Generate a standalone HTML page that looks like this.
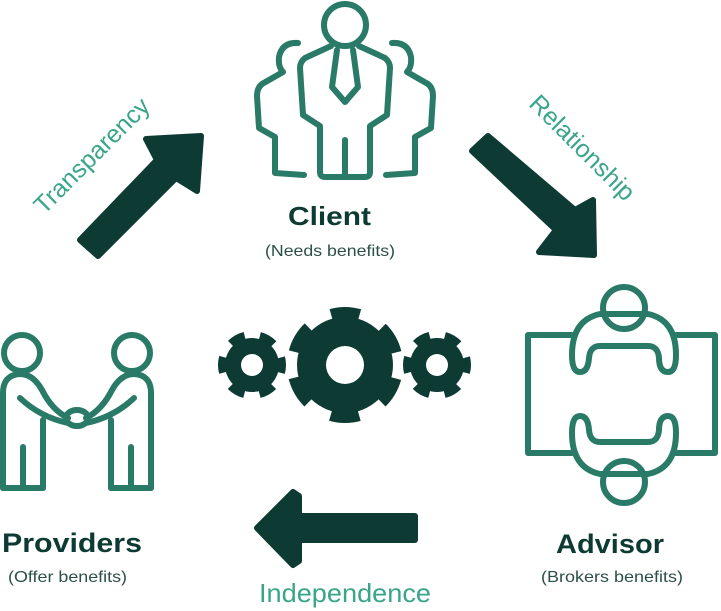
<!DOCTYPE html>
<html><head><meta charset="utf-8"><style>
html,body{margin:0;padding:0;background:#fff;}
svg{display:block;}
</style></head><body>
<svg width="721" height="611" viewBox="0 0 721 611" xmlns="http://www.w3.org/2000/svg">
<g fill="none" stroke="#2a7a68" stroke-width="6" stroke-linecap="round" stroke-linejoin="round">
  <circle cx="345" cy="25" r="21"/>
  <path d="M331,46 L305,58 Q300,62 300,68 L303,115 L320,126 L320,172 Q320,177 325,177 L365,177 Q370,177 370,172 L370,126 L387,115 L390,68 Q390,62 385,58 L359,46"/>
  <path d="M337,50 L332,87 L345,102 L358,87 L353,50"/>
  <path d="M345,140 L345,175"/>
  <path d="M298,43 Q282,42 279,57 Q278,67 283,72 L262,84 Q257,88 257,96 L259,128 L275,137 L275,173 L304,175"/>
  <path d="M392,43 Q408,42 411,57 Q412,67 407,72 L428,84 Q433,88 433,96 L431,128 L415,137 L415,173 L386,175"/>
  <path d="M572,335 L528,335 L528,453 L572,453"/>
  <path d="M676,335 L715,335 L715,453 L676,453"/>
  <circle cx="624" cy="308" r="21"/>
  <circle cx="624" cy="482" r="21"/>
  <path d="M580,372 Q572,372 572,355 Q572,320 600,314 L648,314 Q676,320 676,355 Q676,372 668,372 Q659,372 659,358 Q658,346 648,346 L600,346 Q590,346 589,358 Q588,372 580,372 Z"/>
  <path d="M580,416 Q572,416 572,433 Q572,468 600,474 L648,474 Q676,468 676,433 Q676,416 668,416 Q659,416 659,430 Q658,442 648,442 L600,442 Q590,442 589,430 Q588,416 580,416 Z"/>
  <circle cx="22" cy="353" r="18"/>
  <circle cx="132" cy="353" r="18"/>
  <path d="M3,488 L3,393 Q3,375 20,374 Q33,374 42,390 Q52,410 68,418"/>
  <path d="M43,488 L43,420"/>
  <path d="M3,488 L43,488"/>
  <path d="M23,447 L23,485"/>
  <path d="M20,398 Q40,417 68,423"/>
  <path d="M151,488 L151,393 Q151,375 134,374 Q121,374 112,390 Q102,410 86,418"/>
  <path d="M111,488 L111,420"/>
  <path d="M151,488 L111,488"/>
  <path d="M131,447 L131,485"/>
  <path d="M134,398 Q114,417 86,423"/>
  <ellipse cx="77" cy="418" rx="11" ry="8"/>
</g>
<g fill="#0d3b33" stroke="#0d3b33" stroke-width="6" stroke-linejoin="round">
  <polygon points="201,136 146,139 157,160 80,240 98,256 176,178 197,191"/>
  <polygon points="594,255 593,200 575,210 488,136 472,151 556,230 539,252"/>
  <polygon points="257,528 293,492 299,496 299,516 415,516 415,540 299,540 299,561 293,565"/>
</g>
<g fill="#0d3b33">
  <circle cx="345" cy="365" r="48"/>
  <circle cx="345" cy="365" r="51" fill="none" stroke="#0d3b33" stroke-width="14" stroke-dasharray="28 25.4" stroke-dashoffset="14" transform="rotate(30 345 365)"/>
  <circle cx="252" cy="365" r="27"/>
  <circle cx="252" cy="365" r="30" fill="none" stroke="#0d3b33" stroke-width="8" stroke-dasharray="16 15.42" stroke-dashoffset="8"/>
  <circle cx="437" cy="365" r="27"/>
  <circle cx="437" cy="365" r="30" fill="none" stroke="#0d3b33" stroke-width="8" stroke-dasharray="16 15.42" stroke-dashoffset="8"/>
</g>
<g fill="#fff">
  <circle cx="345" cy="365" r="19"/>
  <circle cx="252" cy="365" r="11"/>
  <circle cx="437" cy="365" r="11"/>
</g>
<g font-family="'Liberation Sans', sans-serif">
  <text x="288" y="225" font-size="26" font-weight="bold" fill="#0d3b33" textLength="83" lengthAdjust="spacingAndGlyphs">Client</text>
  <text x="265" y="256" font-size="16" fill="#2d4f48" textLength="130" lengthAdjust="spacingAndGlyphs">(Needs benefits)</text>
  <text x="2" y="552" font-size="27" font-weight="bold" fill="#0d3b33" textLength="140" lengthAdjust="spacingAndGlyphs">Providers</text>
  <text x="8" y="582" font-size="16" fill="#2d4f48" textLength="119" lengthAdjust="spacingAndGlyphs">(Offer benefits)</text>
  <text x="556" y="553" font-size="27" font-weight="bold" fill="#0d3b33" textLength="108" lengthAdjust="spacingAndGlyphs">Advisor</text>
  <text x="541" y="582" font-size="16" fill="#2d4f48" textLength="142" lengthAdjust="spacingAndGlyphs">(Brokers benefits)</text>
  <text x="259" y="602" font-size="26" fill="#3aa58a" textLength="172" lengthAdjust="spacingAndGlyphs">Independence</text>
  <text transform="translate(92,156) rotate(-45)" text-anchor="middle" font-size="25" fill="#3aa58a" dy="8">Transparency</text>
  <text transform="translate(582,148) rotate(45)" text-anchor="middle" font-size="25" fill="#3aa58a" dy="8">Relationship</text>
</g>
</svg>
</body></html>
